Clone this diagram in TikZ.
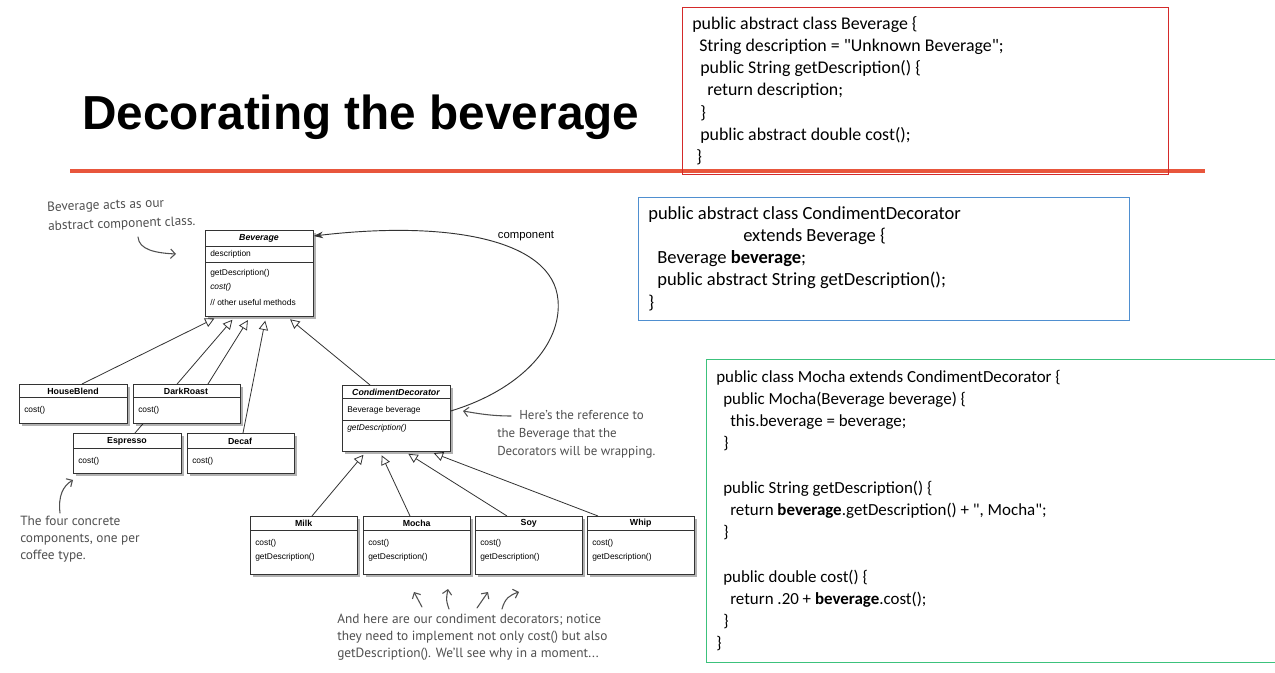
\documentclass[tikz,border=0pt]{standalone}
\usepackage{fontspec}
\setmainfont{Liberation Sans}
\newfontfamily\codefont{Carlito}
\newfontfamily\handfont{PT Sans}
\usetikzlibrary{arrows.meta,shadows,calc}
\pgfdeclarelayer{background}
\pgfsetlayers{background,main}

\definecolor{titlerule}{HTML}{E8563C}
\definecolor{frameRed}{HTML}{D42A2A}
\definecolor{frameBlue}{HTML}{4F8FD0}
\definecolor{frameGreen}{HTML}{3CC27C}
\definecolor{umlline}{HTML}{333333}
\definecolor{handink}{HTML}{505050}

\tikzset{
  umlbox/.style={draw=umlline, line width=0.55pt, fill=white, anchor=north west, inner sep=0pt,
    drop shadow={shadow xshift=2.2pt, shadow yshift=-2.2pt, fill=black, opacity=0.3}},
  umldiv/.style={draw=umlline, line width=0.45pt},
  umltitle/.style={font=\fontsize{6.6}{8}\selectfont\bfseries, inner sep=0pt},
  umltext/.style={font=\fontsize{6.3}{8}\selectfont, anchor=west, inner sep=0pt},
  inherit/.style={draw=umlline, line width=0.6pt,
    -{Triangle[open, length=7pt, width=7pt, line width=0.6pt]}, shorten >=3pt},
  compref/.style={draw=umlline, line width=0.7pt, -{Stealth[length=7pt, width=5pt]}},
  frame/.style={line width=0.8pt, anchor=north west, inner sep=0pt},
  code/.style={anchor=north west, inner sep=0pt, align=left},
  note/.style={font=\handfont\fontsize{10}{12.8}\selectfont, text=handink, inner sep=0pt,
    align=left, anchor=west},
  notearrow/.style={draw=handink, line width=0.8pt, line cap=round,
    -{Straight Barb[length=3.5pt, width=7pt]}},
}

\begin{document}
\begin{tikzpicture}[x=0.75pt, y=-0.75pt]
\useasboundingbox (0,0) rectangle (1275,673);

% ---------- heading ----------
\node[anchor=base west, inner sep=0pt, font=\fontsize{35.8}{40}\selectfont\bfseries]
  (title) at (82,130) {Decorating the beverage};
\draw[titlerule, line width=2.4pt] (70,171) -- (1205,171);

% ---------- code listings ----------
\node[frame, draw=frameRed, minimum width=486*0.75pt, minimum height=167*0.75pt]
  (redframe) at (682,7) {};
\node[code, font=\codefont\fontsize{13.4}{16.65}\selectfont] (redcode) at (692,13)
{\rule{0pt}{12pt}public abstract class Beverage \{\\
\hspace*{5.25pt}String description = "Unknown Beverage";\\
\hspace*{6pt}public String getDescription() \{\\
\hspace*{11.25pt}return description;\\
\hspace*{6pt}\}\\
\hspace*{6pt}public abstract double cost();\\
\hspace*{3pt}\}};

\node[frame, draw=frameBlue, minimum width=491*0.75pt, minimum height=123*0.75pt]
  (blueframe) at (638,197) {};
\node[code, font=\codefont\fontsize{13.9}{16.65}\selectfont] (bluecode) at (648,203)
{\rule{0pt}{12pt}public abstract class CondimentDecorator\\
\hspace*{71.25pt}extends Beverage \{\\
\hspace*{6.75pt}Beverage \textbf{beverage};\\
\hspace*{6.75pt}public abstract String getDescription();\\
\}};

\node[frame, draw=frameGreen, minimum width=572*0.75pt, minimum height=303*0.75pt]
  (greenframe) at (706,359) {};
\node[code, font=\codefont\fontsize{12.7}{16.65}\selectfont] (greencode) at (716,366)
{\rule{0pt}{12pt}public class Mocha extends CondimentDecorator \{\\
\hspace*{5.25pt}public Mocha(Beverage beverage) \{\\
\hspace*{10.5pt}this.beverage = beverage;\\
\hspace*{5.25pt}\}\\[16.65pt]
\hspace*{5.25pt}public String getDescription() \{\\
\hspace*{10.5pt}return \textbf{beverage}.getDescription() + ", Mocha";\\
\hspace*{5.25pt}\}\\[16.65pt]
\hspace*{5.25pt}public double cost() \{\\
\hspace*{10.5pt}return .20 + \textbf{beverage}.cost();\\
\hspace*{5.25pt}\}\\
\}};

% ---------- class boxes ----------
\node[umlbox, minimum width=81pt, minimum height=64.5pt] (bev) at (205,230) {};
\draw[umldiv] (bev.west |- 0,246) -- (bev.east |- 0,246);
\draw[umldiv] (bev.west |- 0,262) -- (bev.east |- 0,262);
\node[umltitle, font=\fontsize{6.6}{8}\selectfont\bfseries\itshape] (bevname) at (259,238) {Beverage};
\node[umltext] (bevattr) at (210,254) {description};
\node[umltext] (bevm1) at (210,273) {getDescription()};
\node[umltext, font=\fontsize{6.3}{8}\selectfont\itshape] (bevm2) at (210,287) {cost()};
\node[umltext] (bevm3) at (210,302) {// other useful methods};

\node[umlbox, minimum width=81pt, minimum height=29.25pt] (house) at (19,384) {};
\draw[umldiv] (house.west |- 0,397) -- (house.east |- 0,397);
\node[umltitle] (housename) at (73,391) {HouseBlend};
\node[umltext] (housem) at (24,410) {cost()};

\node[umlbox, minimum width=80.25pt, minimum height=29.25pt] (dark) at (133,384) {};
\draw[umldiv] (dark.west |- 0,397) -- (dark.east |- 0,397);
\node[umltitle] (darkname) at (186,391) {DarkRoast};
\node[umltext] (darkm) at (138,410) {cost()};

\node[umlbox, minimum width=81pt, minimum height=30pt] (esp) at (73,433) {};
\draw[umldiv] (esp.west |- 0,448) -- (esp.east |- 0,448);
\node[umltitle] (espname) at (127,441) {Espresso};
\node[umltext] (espm) at (78,461) {cost()};

\node[umlbox, minimum width=80.25pt, minimum height=30pt] (decaf) at (187,433) {};
\draw[umldiv] (decaf.west |- 0,448) -- (decaf.east |- 0,448);
\node[umltitle] (decafname) at (240,441) {Decaf};
\node[umltext] (decafm) at (192,461) {cost()};

\node[umlbox, minimum width=81pt, minimum height=49.5pt] (cond) at (342,385) {};
\draw[umldiv] (cond.west |- 0,398) -- (cond.east |- 0,398);
\draw[umldiv] (cond.west |- 0,420) -- (cond.east |- 0,420);
\node[umltitle, font=\fontsize{6.6}{8}\selectfont\bfseries\itshape] (condname) at (396,392) {CondimentDecorator};
\node[umltext] (condattr) at (347,410) {Beverage beverage};
\node[umltext, font=\fontsize{6.3}{8}\selectfont\itshape] (condm) at (347,428) {getDescription()};

\foreach \nm/\lbl/\x in {milk/Milk/250, mocha/Mocha/363, soy/Soy/475, whip/Whip/587} {
  \node[umlbox, minimum width=80pt, minimum height=43.5pt] (\nm) at (\x,516) {};
  \draw[umldiv] (\nm.west |- 0,530) -- (\nm.east |- 0,530);
  \node[umltitle] (\nm name) at ($(\nm.north)+(0,7)$) {\lbl};
  \node[umltext] (\nm m1) at ($(\nm.north west)+(5,27)$) {cost()};
  \node[umltext] (\nm m2) at ($(\nm.north west)+(5,41)$) {getDescription()};
}

% ---------- relations ----------
\begin{pgfonlayer}{background}
\fill[white] (0,0) rectangle (1275,673);
\draw[inherit] (house.north -| 82,0) -- (bev.south -| 218,0);
\draw[inherit] (esp.north -| 135,0) -- (bev.south -| 235,0);
\draw[inherit] (dark.north -| 208,0) -- (bev.south -| 250,0);
\draw[inherit] (decaf.north -| 243,0) -- (bev.south -| 266,0);
\draw[inherit] (cond.north -| 370,0) -- (bev.south -| 287,0);
\draw[inherit] (milk.north -| 312,0) -- (cond.south -| 366,0);
\draw[inherit] (mocha.north -| 410,0) -- (cond.south -| 380,0);
\draw[inherit] (soy.north -| 507,0) -- (cond.south -| 405,0);
\draw[inherit] (whip.north -| 598,0) -- (cond.south -| 430,0);
\end{pgfonlayer}

\draw[compref] (cond.east |- 0,411) .. controls (520,390) and (562,345) .. (558,300)
  .. controls (553,240) and (450,220) .. (bev.north east |- 0,236);
\node[font=\fontsize{8.5}{10}\selectfont, inner sep=0pt] (complbl) at (526,236) {component};

% ---------- hand-written notes ----------
\node[note, rotate=2] (notebevA) at (47,208) {Beverage acts as our};
\node[note, rotate=2] (notebevB) at (48,227) {abstract component class.};
\coordinate (notebevtail) at (138,237);
\coordinate (notebevhead) at (176,254);
\draw[notearrow] (notebevtail) .. controls (139,250) and (156,253) .. (notebevhead);

\node[note] (noteconc) at (20,539) {The four concrete\\components, one per\\coffee type.};
\coordinate (noteconctail) at (60,513);
\coordinate (noteconchead) at (73,480);
\draw[notearrow] (noteconctail) .. controls (58,496) and (63,486) .. (noteconchead);

\node[note, font=\handfont\fontsize{9.7}{13.5}\selectfont] (noteref) at (497,434)
  {\hspace*{16.5pt}Here’s the reference to\\the Beverage that the\\Decorators will be wrapping.};
\coordinate (notereftail) at (511,416);
\coordinate (noterefhead) at (463,411);
\draw[notearrow] (notereftail) .. controls (490,416) and (475,413) .. (noterefhead);

\node[note] (notedec) at (337,637)
  {And here are our condiment decorators; notice\\they need to implement not only cost() but also\\getDescription(). We’ll see why in a moment...};
\coordinate (da1) at (422,607); \coordinate (db1) at (414,592);
\coordinate (da2) at (449,609); \coordinate (db2) at (448,589);
\coordinate (da3) at (477,608); \coordinate (db3) at (488,592);
\coordinate (da4) at (502,609); \coordinate (db4) at (519,592);
\draw[notearrow] (da1) -- (db1);
\draw[notearrow] (da2) .. controls (446,600) .. (db2);
\draw[notearrow] (da3) -- (db3);
\draw[notearrow] (da4) .. controls (505,598) and (510,595) .. (db4);
\end{tikzpicture}
\end{document}
